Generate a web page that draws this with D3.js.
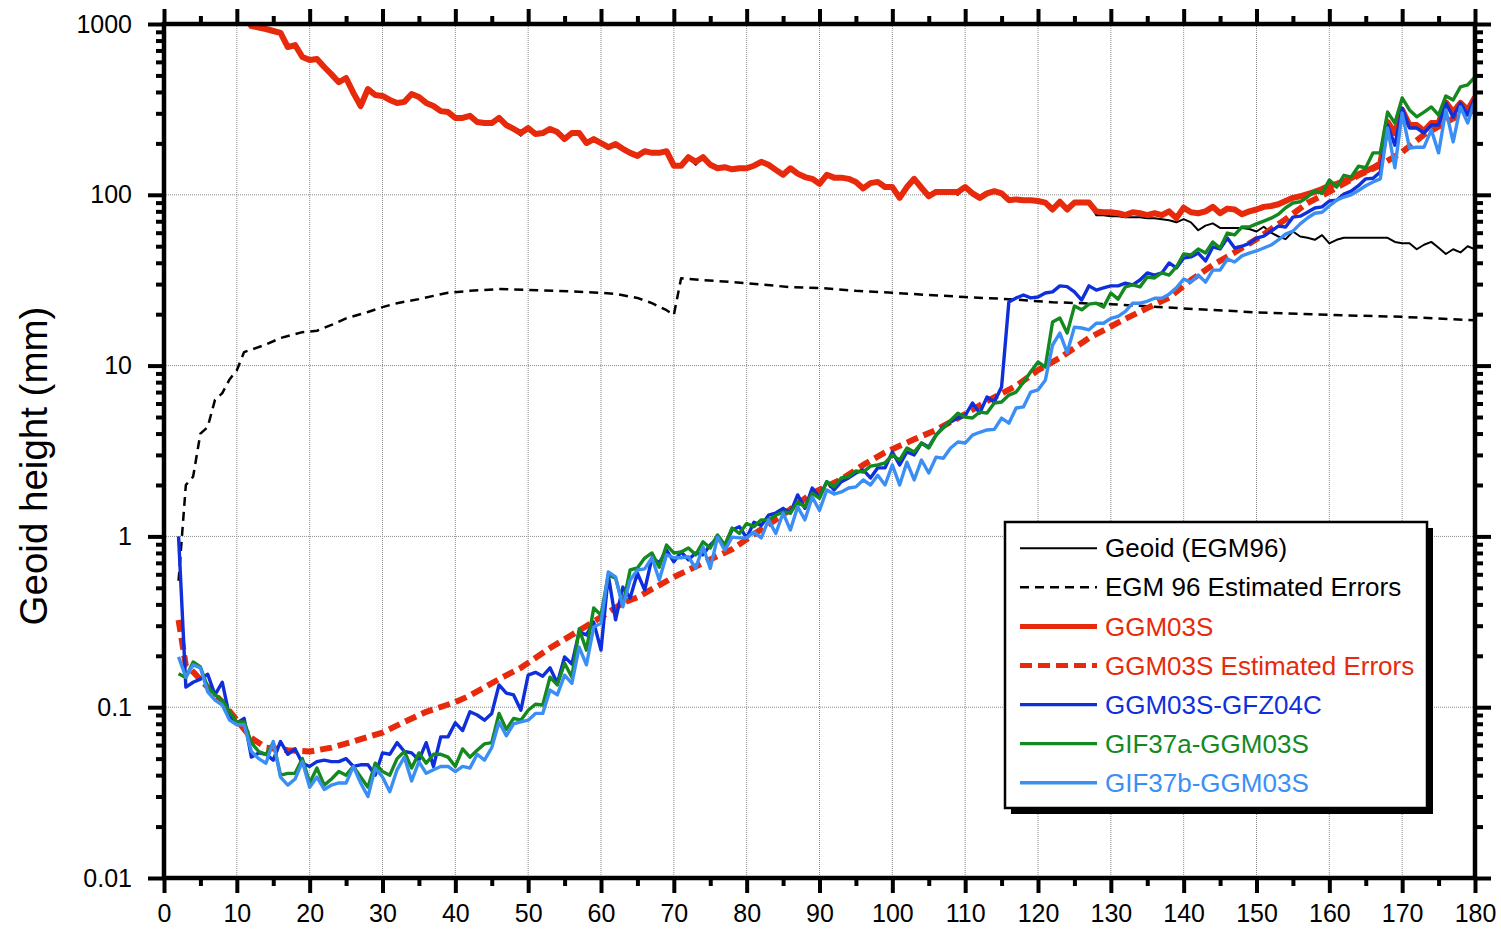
<!DOCTYPE html>
<html>
<head>
<meta charset="utf-8">
<script src="https://cdn.jsdelivr.net/npm/d3@7"></script>
<style>
body { margin: 0; background: #fff; }
svg text { font-family: "Liberation Sans", Arial, sans-serif; }
</style>
</head>
<body>
<svg id="chart" width="1501" height="929"></svg>
<script>
// axis ticks
var xTickLabels = [0, 10, 20, 30, 40, 50, 60, 70, 80, 90, 100, 110, 120, 130, 140, 150, 160, 170, 180];
var yTickValues = [1000, 100, 10, 1, 0.1, 0.01];
var yTickLabels = ['1000', '100', '10', '1', '0.1', '0.01'];

// Geoid (EGM96), degree 11..180
var geoidStart = 11;
var geoid = [1100, 973, 954, 935, 910, 886, 733, 753, 641, 615,
	624, 560, 507, 456, 483, 395, 331, 416, 384, 379,
	359, 345, 350, 389, 374, 345, 331, 309, 305, 282,
	282, 290, 267, 263, 263, 282, 256, 243, 222, 246,
	227, 230, 243, 233, 212, 230, 230, 201, 212, 201,
	190, 198, 186, 176, 169, 180, 176, 176, 180, 148,
	148, 166, 150, 166, 150, 143, 145, 141, 143, 140,
	148, 156, 150, 140, 131, 143, 133, 127, 124, 116,
	131, 126, 126, 124, 119, 109, 117, 119, 111, 111,
	96, 111, 124, 110, 96, 104, 104, 104, 100, 111,
	102, 94, 102, 105, 102, 93, 94, 93, 93, 92,
	90, 82, 91, 82, 90, 90, 90, 76, 76, 75,
	75, 74, 74, 74, 73, 73, 72, 71, 69, 72,
	69, 62, 66, 68, 64, 64, 64, 64, 63, 61,
	65, 60, 57, 55, 61, 57, 56, 54.5, 58, 52,
	54.5, 56, 56, 56, 56, 56, 56, 56, 53, 52,
	52, 48, 51, 53, 49, 45, 48, 46, 50, 48];

// GGM03S, degree 11..180
var ggm03sStart = 11;
var ggm03s = [1100, 973, 954, 935, 910, 886, 733, 753, 641, 615,
	624, 560, 507, 456, 483, 395, 331, 416, 384, 379,
	359, 345, 350, 389, 374, 345, 331, 309, 305, 282,
	282, 290, 267, 263, 263, 282, 256, 243, 230, 246,
	227, 230, 243, 233, 212, 230, 230, 201, 212, 201,
	190, 198, 186, 176, 169, 180, 176, 176, 180, 148,
	148, 166, 156, 166, 150, 143, 145, 141, 143, 143,
	148, 156, 150, 140, 131, 143, 133, 127, 124, 116,
	131, 126, 126, 124, 119, 109, 117, 119, 111, 111,
	96, 111, 124, 110, 98, 104, 104, 104, 104, 111,
	102, 96, 102, 105, 102, 93, 94, 93, 93, 92,
	90, 82, 91, 82, 90, 90, 90, 80, 79, 79,
	78, 76, 79, 78, 76, 78, 76, 80, 73, 84,
	79, 78, 80, 85, 78, 83, 82, 77, 80, 82,
	85, 86, 88, 92, 96, 98, 101, 104, 108, 113,
	116, 120, 125, 132, 138, 144, 153, 267, 230, 314,
	256, 256, 236, 263, 263, 348, 305, 345, 314, 372];

// EGM 96 estimated errors
var egmErrDeg = [2, 3, 4, 5, 6, 7, 8, 9, 10, 11,
	12, 14, 16, 19, 21, 23, 25, 28, 30, 32,
	35, 37, 39, 42, 44, 46, 50, 54, 60, 62,
	65, 67, 69, 70, 71, 74, 80, 86, 90, 95,
	100, 105, 110, 116, 122, 130, 140, 150, 160, 170, 180];
var egmErr = [0.55, 2.0, 2.24, 4.0, 4.37, 6.3, 6.9, 8.3, 9.4, 12.0,
	12.4, 13.3, 14.5, 15.7, 16.0, 17.3, 18.9, 20.6, 22.0, 23.2,
	24.5, 25.6, 26.7, 27.4, 27.7, 28.1, 27.7, 27.4, 26.7, 26.3,
	24.9, 23.2, 21.1, 19.8, 32.5, 31.7, 30.4, 28.8, 28.5, 27.4,
	26.7, 25.9, 25.2, 24.5, 23.5, 22.9, 21.6, 20.5, 19.8, 19.3, 18.4];

// GGM03S estimated errors
var ggmErrDeg = [2, 3, 4, 6, 8, 10, 12, 14, 17, 20,
	23, 26, 30, 33, 36, 40, 42, 46, 49, 53,
	56, 60, 63, 65, 70, 74, 78, 82, 85, 89,
	93, 96, 99, 103, 106, 110, 113, 117, 120, 123,
	127, 132, 135, 138, 141, 144, 147, 150, 154, 157,
	160, 164, 167, 170, 173, 177, 180];
var ggmErr = [0.324, 0.175, 0.161, 0.131, 0.107, 0.084, 0.066, 0.058, 0.056, 0.055,
	0.058, 0.063, 0.071, 0.082, 0.094, 0.107, 0.117, 0.146, 0.17, 0.222,
	0.265, 0.337, 0.408, 0.44, 0.578, 0.70, 0.84, 1.10, 1.34, 1.79,
	2.16, 2.62, 3.1, 3.7, 4.2, 5.2, 6.2, 7.6, 9.4, 11.1,
	14.5, 18.8, 21.7, 25, 31.7, 38.8, 46, 55, 72, 89.5,
	104, 130, 149, 178, 225, 280, 314];

// GGM03S-GFZ04C, degree 2..180
var gfzStart = 2;
var gfz = [1.0, 0.131, 0.140, 0.146, 0.156, 0.118, 0.140, 0.088, 0.081, 0.086,
	0.051, 0.054, 0.053, 0.049, 0.063, 0.053, 0.057, 0.047, 0.045, 0.048,
	0.049, 0.048, 0.048, 0.050, 0.045, 0.046, 0.046, 0.040, 0.054, 0.053,
	0.062, 0.055, 0.054, 0.049, 0.062, 0.045, 0.067, 0.067, 0.081, 0.073,
	0.094, 0.090, 0.084, 0.092, 0.135, 0.121, 0.118, 0.096, 0.154, 0.160,
	0.152, 0.170, 0.138, 0.197, 0.179, 0.276, 0.265, 0.315, 0.216, 0.594,
	0.325, 0.505, 0.436, 0.61, 0.485, 0.75, 0.70, 0.83, 0.71, 0.81,
	0.73, 0.80, 0.78, 0.89, 0.98, 0.89, 1.09, 1.14, 0.98, 1.21,
	1.16, 1.33, 1.37, 1.46, 1.37, 1.75, 1.46, 1.92, 1.70, 2.09,
	1.87, 2.09, 2.20, 2.35, 2.45, 2.20, 2.52, 2.52, 3.12, 2.62,
	3.12, 3.0, 3.52, 3.34, 3.92, 4.37, 4.67, 4.93, 5.1, 6.04,
	5.27, 6.55, 6.12, 7.5, 23.6, 24.9, 25.9, 24.9, 25.2, 26.6,
	27.0, 29.3, 29.0, 27.0, 24.2, 29.3, 27.7, 28.5, 29.3, 29.3,
	30.4, 29.7, 31.7, 34.9, 33.9, 34.9, 39.9, 37.3, 42.6, 43.3,
	45.6, 41, 49.5, 48.2, 55.8, 48.8, 50, 52, 55.8, 57.3,
	61.3, 65.6, 64.8, 74, 75, 79, 83.7, 85, 92, 93,
	101, 105, 113, 124, 125, 136, 256, 195, 322, 246,
	246, 230, 256, 256, 345, 285, 345, 293, 369];

// GIF37a-GGM03S, degree 2..180
var gifaStart = 2;
var gifa = [0.157, 0.149, 0.184, 0.172, 0.131, 0.118, 0.110, 0.094, 0.082, 0.082,
	0.062, 0.055, 0.053, 0.062, 0.040, 0.041, 0.041, 0.050, 0.036, 0.044,
	0.035, 0.038, 0.042, 0.040, 0.045, 0.039, 0.034, 0.047, 0.042, 0.040,
	0.050, 0.055, 0.044, 0.054, 0.047, 0.053, 0.053, 0.051, 0.045, 0.057,
	0.051, 0.056, 0.061, 0.062, 0.092, 0.074, 0.086, 0.084, 0.096, 0.104,
	0.103, 0.150, 0.135, 0.181, 0.150, 0.287, 0.216, 0.381, 0.346, 0.594,
	0.57, 0.397, 0.636, 0.653, 0.747, 0.80, 0.66, 0.89, 0.80, 0.81,
	0.855, 0.78, 0.93, 0.855, 1.02, 0.89, 1.12, 1.04, 1.19, 1.14,
	1.25, 1.25, 1.33, 1.39, 1.37, 1.59, 1.49, 1.79, 1.67, 2.09,
	1.95, 2.20, 2.24, 2.42, 2.38, 2.58, 2.62, 2.69, 3.0, 2.8,
	3.29, 3.12, 3.52, 3.29, 3.92, 4.31, 4.78, 5.27, 4.99, 4.93,
	5.35, 5.27, 6.04, 6.12, 6.72, 7.0, 8.0, 9.2, 10.5, 9.8,
	18.0, 19.0, 15.5, 22.3, 21.2, 22.9, 23.2, 22.0, 26.6, 24.5,
	28.9, 29.7, 28.9, 33.0, 32.6, 34.9, 33.9, 37.8, 45.0, 44.4,
	48.2, 45.6, 52.9, 48.8, 59.7, 58.2, 64.8, 64.8, 67.6, 70.2,
	73, 77, 84, 89.5, 91, 97, 106, 102, 122, 111,
	130, 127, 147, 144, 176, 176, 305, 263, 369, 314,
	286, 305, 327, 293, 379, 359, 428, 440, 490];

// GIF37b-GGM03S, degree 2..180
var gifbStart = 2;
var gifb = [0.197, 0.150, 0.177, 0.170, 0.123, 0.110, 0.103, 0.084, 0.079, 0.079,
	0.055, 0.050, 0.047, 0.063, 0.039, 0.035, 0.038, 0.048, 0.034, 0.039,
	0.033, 0.035, 0.036, 0.036, 0.045, 0.036, 0.030, 0.044, 0.039, 0.032,
	0.043, 0.051, 0.037, 0.048, 0.041, 0.043, 0.045, 0.045, 0.042, 0.045,
	0.044, 0.053, 0.049, 0.058, 0.082, 0.068, 0.080, 0.082, 0.084, 0.092,
	0.092, 0.126, 0.118, 0.154, 0.138, 0.225, 0.177, 0.295, 0.31, 0.619,
	0.58, 0.387, 0.555, 0.636, 0.645, 0.75, 0.555, 0.78, 0.75, 0.75,
	0.76, 0.65, 0.87, 0.65, 0.99, 0.83, 0.99, 0.98, 0.98, 1.06,
	0.98, 1.25, 1.04, 1.37, 1.09, 1.49, 1.25, 1.70, 1.42, 1.87,
	1.77, 1.82, 1.92, 1.95, 2.14, 2.0, 2.28, 2.0, 2.62, 2.0,
	2.72, 2.14, 2.8, 2.35, 2.91, 2.87, 3.29, 3.57, 3.52, 3.92,
	4.07, 4.2, 4.23, 4.93, 4.6, 5.65, 5.73, 7.0, 7.2, 8.2,
	13.2, 15.5, 11.9, 16.8, 16.6, 16.2, 17.7, 17.7, 18.9, 19.4,
	20.8, 23.2, 23.2, 23.8, 24.8, 24.8, 26.2, 28.5, 32.1, 30.8,
	33.9, 30.8, 36.2, 36.2, 42.1, 40.4, 43.9, 45.6, 46.9, 48.8,
	50.8, 54.4, 58.9, 61.3, 67.6, 73.1, 78, 79, 86, 93,
	97, 100, 106, 113, 119, 124, 246, 144, 301, 188,
	190, 190, 240, 176, 314, 204, 327, 263, 359];

var RED = '#e72a0b';
var BLUE = '#0f2fdc';
var GREEN = '#13891f';
var LIGHTBLUE = '#3b8ff4';
var FONT = '"Liberation Sans", Arial, sans-serif';

var plotLeft = 164, plotRight = 1475, plotTop = 24, plotBottom = 878;

var svg = d3.select('#chart');

var x = d3.scaleLinear().domain([0, 180]).range([plotLeft, plotRight]);
var y = d3.scaleLog().domain([0.01, 1000]).range([plotBottom, plotTop]);

function byStart(start, vals) {
	return vals.map(function(v, i) { return [start + i, v]; });
}
function byDeg(degs, vals) {
	return vals.map(function(v, i) { return [degs[i], v]; });
}

var series = [
	{name: 'Geoid (EGM96)', pts: byStart(geoidStart, geoid), color: '#000', width: 2, dash: null},
	{name: 'EGM 96 Estimated Errors', pts: byDeg(egmErrDeg, egmErr), color: '#000', width: 2.5, dash: '9,6'},
	{name: 'GGM03S', pts: byStart(ggm03sStart, ggm03s), color: RED, width: 6, dash: null},
	{name: 'GGM03S Estimated Errors', pts: byDeg(ggmErrDeg, ggmErr), color: RED, width: 6, dash: '12,6'},
	{name: 'GGM03S-GFZ04C', pts: byStart(gfzStart, gfz), color: BLUE, width: 3.4, dash: null},
	{name: 'GIF37a-GGM03S', pts: byStart(gifaStart, gifa), color: GREEN, width: 3.4, dash: null},
	{name: 'GIF37b-GGM03S', pts: byStart(gifbStart, gifb), color: LIGHTBLUE, width: 3.4, dash: null}
];

svg.append('defs').append('clipPath').attr('id', 'plotClip')
	.append('rect')
	.attr('x', plotLeft).attr('y', plotTop)
	.attr('width', plotRight - plotLeft).attr('height', plotBottom - plotTop);

// grid
var grid = svg.append('g');
grid.selectAll('line.vgrid').data(xTickLabels.slice(1, -1)).enter().append('line')
	.attr('class', 'vgrid')
	.attr('x1', function(d) { return x(d); })
	.attr('x2', function(d) { return x(d); })
	.attr('y1', plotTop).attr('y2', plotBottom);
grid.selectAll('line.hgrid').data(yTickValues.slice(1, -1)).enter().append('line')
	.attr('class', 'hgrid')
	.attr('x1', plotLeft).attr('x2', plotRight)
	.attr('y1', function(d) { return y(d); })
	.attr('y2', function(d) { return y(d); });
grid.selectAll('line')
	.attr('stroke', '#8a8a8a')
	.attr('stroke-width', 1)
	.attr('stroke-dasharray', '1,1');

// curves
var line = d3.line()
	.x(function(d) { return x(d[0]); })
	.y(function(d) { return y(d[1]); });

svg.append('g').attr('clip-path', 'url(#plotClip)')
	.selectAll('path').data(series).enter().append('path')
	.attr('d', function(d) { return line(d.pts); })
	.attr('fill', 'none')
	.attr('stroke', function(d) { return d.color; })
	.attr('stroke-width', function(d) { return d.width; })
	.attr('stroke-dasharray', function(d) { return d.dash; })
	.attr('stroke-linejoin', 'round');

// axes
function styleAxis(g) {
	g.select('.domain').remove();
	g.attr('font-size', 25).attr('font-family', FONT);
	g.selectAll('.tick line').attr('stroke', '#000').attr('stroke-width', 4);
	g.selectAll('.tick text').attr('fill', '#000');
}

var xMinor = d3.range(5, 180, 10);
var yMinor = [];
[0.01, 0.1, 1, 10, 100].forEach(function(dec) {
	for (var k = 2; k <= 9; k++) yMinor.push(dec * k);
});

svg.append('g').attr('transform', 'translate(0,' + plotBottom + ')')
	.call(d3.axisBottom(x).tickValues(xTickLabels).tickSize(15).tickPadding(11).tickFormat(d3.format('d')))
	.call(styleAxis);
svg.append('g').attr('transform', 'translate(0,' + plotBottom + ')')
	.call(d3.axisBottom(x).tickValues(xMinor).tickSize(8).tickFormat(''))
	.call(styleAxis);
svg.append('g').attr('transform', 'translate(0,' + plotTop + ')')
	.call(d3.axisTop(x).tickValues(xTickLabels).tickSize(15).tickFormat(''))
	.call(styleAxis);
svg.append('g').attr('transform', 'translate(0,' + plotTop + ')')
	.call(d3.axisTop(x).tickValues(xMinor).tickSize(8).tickFormat(''))
	.call(styleAxis);
svg.append('g').attr('transform', 'translate(' + plotLeft + ',0)')
	.call(d3.axisLeft(y).tickValues(yTickValues).tickSize(16).tickPadding(16)
		.tickFormat(function(d, i) { return yTickLabels[i]; }))
	.call(styleAxis);
svg.append('g').attr('transform', 'translate(' + plotLeft + ',0)')
	.call(d3.axisLeft(y).tickValues(yMinor).tickSize(8).tickFormat(''))
	.call(styleAxis);
svg.append('g').attr('transform', 'translate(' + plotRight + ',0)')
	.call(d3.axisRight(y).tickValues(yTickValues).tickSize(16).tickFormat(''))
	.call(styleAxis);
svg.append('g').attr('transform', 'translate(' + plotRight + ',0)')
	.call(d3.axisRight(y).tickValues(yMinor).tickSize(8).tickFormat(''))
	.call(styleAxis);

// frame
svg.append('rect')
	.attr('x', plotLeft).attr('y', plotTop)
	.attr('width', plotRight - plotLeft).attr('height', plotBottom - plotTop)
	.attr('fill', 'none')
	.attr('stroke', '#000')
	.attr('stroke-width', 4.5);

// y title
svg.append('text')
	.attr('transform', 'translate(47,466) rotate(-90)')
	.attr('text-anchor', 'middle')
	.attr('font-size', 38.5)
	.attr('font-family', FONT)
	.attr('fill', '#000')
	.text('Geoid height (mm)');

// legend
var lg = svg.append('g');
lg.append('rect')
	.attr('x', 1011).attr('y', 528).attr('width', 422).attr('height', 286)
	.attr('fill', '#000');
lg.append('rect')
	.attr('x', 1005).attr('y', 522).attr('width', 422).attr('height', 286)
	.attr('fill', '#fff').attr('stroke', '#000').attr('stroke-width', 2.5);

var rows = lg.selectAll('g.row').data(series).enter().append('g')
	.attr('class', 'row')
	.attr('transform', function(d, i) { return 'translate(0,' + (548.3 + i * 39.07) + ')'; });
rows.append('line')
	.attr('x1', 1020).attr('x2', 1097).attr('y1', 0).attr('y2', 0)
	.attr('stroke', function(d) { return d.color; })
	.attr('stroke-width', function(d) { return Math.min(d.width, 5); })
	.attr('stroke-dasharray', function(d) { return d.dash; });
rows.append('text')
	.attr('x', 1105).attr('y', 0).attr('dy', '0.35em')
	.attr('font-size', 26)
	.attr('font-family', FONT)
	.attr('fill', function(d) { return d.color; })
	.text(function(d) { return d.name; });
</script>
</body>
</html>
